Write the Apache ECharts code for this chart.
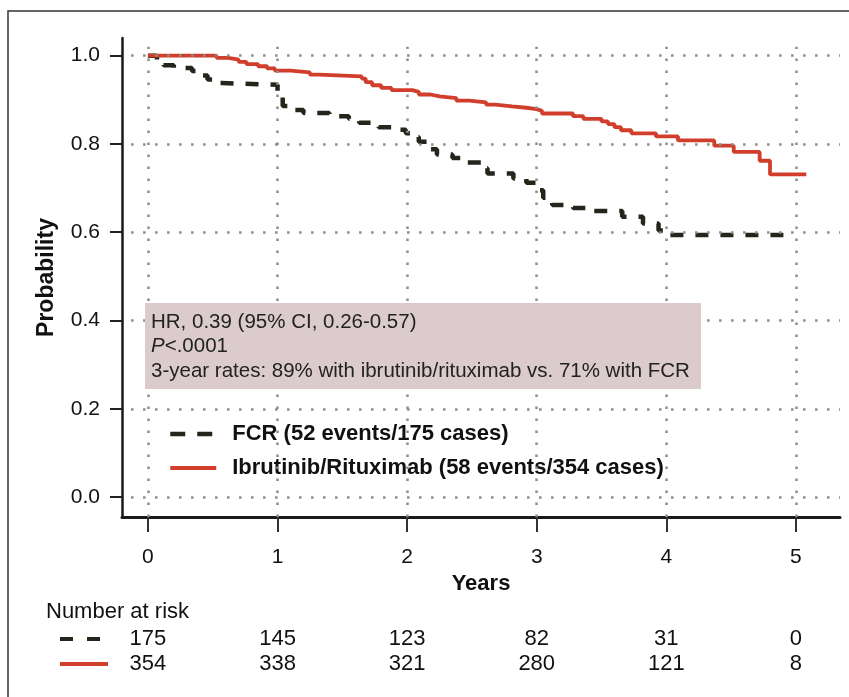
<!DOCTYPE html>
<html>
<head>
<meta charset="utf-8">
<script src="https://cdn.jsdelivr.net/npm/echarts@6/dist/echarts.min.js"></script>
<style>
html,body{margin:0;padding:0;background:#fff;}
#c{width:849px;height:697px;}
</style>
</head>
<body>
<div id="c"></div>
<script>
// ---------- data ----------
const years = [0, 1, 2, 3, 4, 5];
const probTicks = [0, 0.2, 0.4, 0.6, 0.8, 1.0];

const fcrName = 'FCR (52 events/175 cases)';
const ibrName = 'Ibrutinib/Rituximab (58 events/354 cases)';

const fcrT = [0, 0.07, 0.12, 0.20, 0.34, 0.40, 0.46, 0.52, 0.57, 1.00, 1.04, 1.09, 1.20, 1.40, 1.55, 1.63, 1.78, 1.88, 1.99, 2.04, 2.09, 2.18, 2.23, 2.35, 2.43, 2.57, 2.62, 2.82, 2.92, 3.00, 3.05, 3.12, 3.28, 3.42, 3.66, 3.82, 3.94, 3.98, 4.93];
const fcrS = [1.0, 0.990, 0.978, 0.972, 0.965, 0.955, 0.946, 0.938, 0.934, 0.905, 0.886, 0.877, 0.870, 0.863, 0.857, 0.848, 0.838, 0.832, 0.824, 0.816, 0.805, 0.788, 0.776, 0.768, 0.758, 0.745, 0.733, 0.722, 0.712, 0.695, 0.678, 0.662, 0.655, 0.648, 0.635, 0.620, 0.604, 0.594, 0.594];

const ibrT = [0, 0.53, 0.62, 0.70, 0.76, 0.85, 0.92, 0.98, 1.10, 1.25, 1.32, 1.65, 1.68, 1.73, 1.80, 1.88, 2.04, 2.09, 2.18, 2.25, 2.38, 2.48, 2.61, 2.68, 2.81, 2.92, 3.00, 3.04, 3.28, 3.36, 3.50, 3.55, 3.60, 3.65, 3.73, 3.92, 4.09, 4.37, 4.52, 4.72, 4.80, 5.08];
const ibrS = [1.0, 0.995, 0.991, 0.986, 0.981, 0.976, 0.971, 0.966, 0.962, 0.957, 0.953, 0.948, 0.940, 0.933, 0.927, 0.922, 0.918, 0.912, 0.908, 0.904, 0.898, 0.894, 0.889, 0.885, 0.882, 0.879, 0.875, 0.869, 0.863, 0.857, 0.851, 0.845, 0.838, 0.831, 0.824, 0.817, 0.808, 0.796, 0.782, 0.762, 0.731, 0.731];

const fcrRisk = [175, 145, 123, 82, 31, 0];
const ibrRisk = [354, 338, 321, 280, 121, 8];

const boxLines = ['HR, 0.39 (95% CI, 0.26-0.57)', 'P<.0001', '3-year rates: 89% with ibrutinib/rituximab vs. 71% with FCR'];
const riskTitle = 'Number at risk';

// ---------- chart ----------
const FONT = '"Liberation Sans", Arial, sans-serif';
const RED = '#d13e2b';
const DARK = '#24261c';
const X_MIN = -0.2, X_MAX = 5.34, Y_MIN = -0.045, Y_MAX = 1.04;

const toPairs = (t, s) => t.map((v, i) => [v, s[i]]);
const gridLines = [
  ...probTicks.map(v => [{coord: [-0.13, v]}, {coord: [X_MAX, v]}]),
  ...years.map(t => [{coord: [t, Y_MIN]}, {coord: [t, 1.02]}])
];

const chart = echarts.init(document.getElementById('c'), null, {renderer: 'canvas'});

const option = {
  animation: false,
  backgroundColor: '#fff',
  grid: {left: 122, right: 9, top: 38, bottom: 180},
  xAxis: {
    type: 'value', min: X_MIN, max: X_MAX,
    name: 'Years', nameLocation: 'middle', nameGap: 55,
    nameTextStyle: {fontFamily: FONT, fontSize: 22, fontWeight: 'bold', color: '#111'},
    axisLine: {onZero: false, lineStyle: {color: '#1a1a1a', width: 3}},
    axisTick: {customValues: years, length: 15, lineStyle: {color: '#333', width: 2}},
    axisLabel: {customValues: years, margin: 30, fontFamily: FONT, fontSize: 21, color: '#111'},
    splitLine: {show: false}
  },
  yAxis: {
    type: 'value', min: Y_MIN, max: Y_MAX,
    name: 'Probability', nameLocation: 'middle', nameRotate: 90, nameGap: 64,
    nameTextStyle: {fontFamily: FONT, fontSize: 23, fontWeight: 'bold', color: '#111'},
    axisLine: {show: true, onZero: false, lineStyle: {color: '#1a1a1a', width: 2.5}},
    axisTick: {show: true, customValues: probTicks, length: 12, lineStyle: {color: '#222', width: 2}},
    axisLabel: {customValues: probTicks, formatter: v => v.toFixed(1), margin: 22, fontFamily: FONT, fontSize: 21, color: '#111'},
    splitLine: {show: false}
  },
  legend: {
    orient: 'vertical', left: 163, top: 417,
    itemWidth: 46, itemHeight: 20, itemGap: 10,
    itemStyle: {opacity: 0},
    data: [
      {name: fcrName, lineStyle: {color: DARK, width: 4.5, type: [15, 12]}},
      {name: ibrName, lineStyle: {color: RED, width: 4, type: 'solid'}}
    ],
    textStyle: {fontFamily: FONT, fontSize: 22, fontWeight: 'bold', color: '#111', padding: [0, 0, 0, 11], lineHeight: 24}
  },
  series: [
    {
      type: 'line', name: 'gridlines', data: [], silent: true, z: 1,
      markLine: {
        silent: true, symbol: ['none', 'none'], label: {show: false},
        lineStyle: {color: '#8c8c8c', width: 2.5, type: [2.5, 9.5]},
        emphasis: {disabled: true},
        data: gridLines
      }
    },
    {
      type: 'line', name: fcrName, data: toPairs(fcrT, fcrS), step: 'end',
      symbol: 'none', showSymbol: false, z: 3,
      lineStyle: {color: DARK, width: 4.5, type: [13, 12]},
      itemStyle: {color: DARK}
    },
    {
      type: 'line', name: ibrName, data: toPairs(ibrT, ibrS), step: 'end',
      symbol: 'none', showSymbol: false, z: 4,
      lineStyle: {color: RED, width: 3.8},
      itemStyle: {color: RED}
    }
  ]
};
chart.setOption(option);

// ---------- annotations ----------
const boxText = boxLines[0] + '\n' + boxLines[1].replace(/^P/, '{i|P}') + '\n' + boxLines[2];
const graphics = [
  {type: 'rect', shape: {x: 8, y: 11, width: 1000, height: 1000}, style: {fill: 'none', stroke: '#333', lineWidth: 1.5}, silent: true, z: 0},
  {type: 'rect', shape: {x: 145, y: 303, width: 556, height: 86}, style: {fill: '#dccbcc'}, silent: true, z: 10},
  {type: 'text', x: 151, y: 310, z: 11, silent: true,
   style: {text: boxText, fill: '#222', fontFamily: FONT, fontSize: 20.5, lineHeight: 24.5, verticalAlign: 'top',
           rich: {i: {fontStyle: 'italic', fontFamily: FONT, fontSize: 20.5, lineHeight: 24.5, fill: '#222'}}}},
  {type: 'text', x: 46, y: 612, silent: true,
   style: {text: riskTitle, fill: '#111', fontFamily: FONT, fontSize: 22, verticalAlign: 'middle'}},
  {type: 'line', shape: {x1: 60, y1: 639, x2: 100, y2: 639}, silent: true,
   style: {stroke: DARK, lineWidth: 4, lineDash: [13, 14]}},
  {type: 'line', shape: {x1: 60, y1: 664, x2: 108, y2: 664}, silent: true,
   style: {stroke: RED, lineWidth: 4}}
];
years.forEach((t, i) => {
  const px = chart.convertToPixel({xAxisIndex: 0}, t);
  graphics.push({type: 'text', x: px, y: 639, silent: true,
    style: {text: String(fcrRisk[i]), fill: '#111', fontFamily: FONT, fontSize: 22, align: 'center', verticalAlign: 'middle'}});
  graphics.push({type: 'text', x: px, y: 664, silent: true,
    style: {text: String(ibrRisk[i]), fill: '#111', fontFamily: FONT, fontSize: 22, align: 'center', verticalAlign: 'middle'}});
});
chart.setOption({graphic: graphics});
</script>
</body>
</html>
